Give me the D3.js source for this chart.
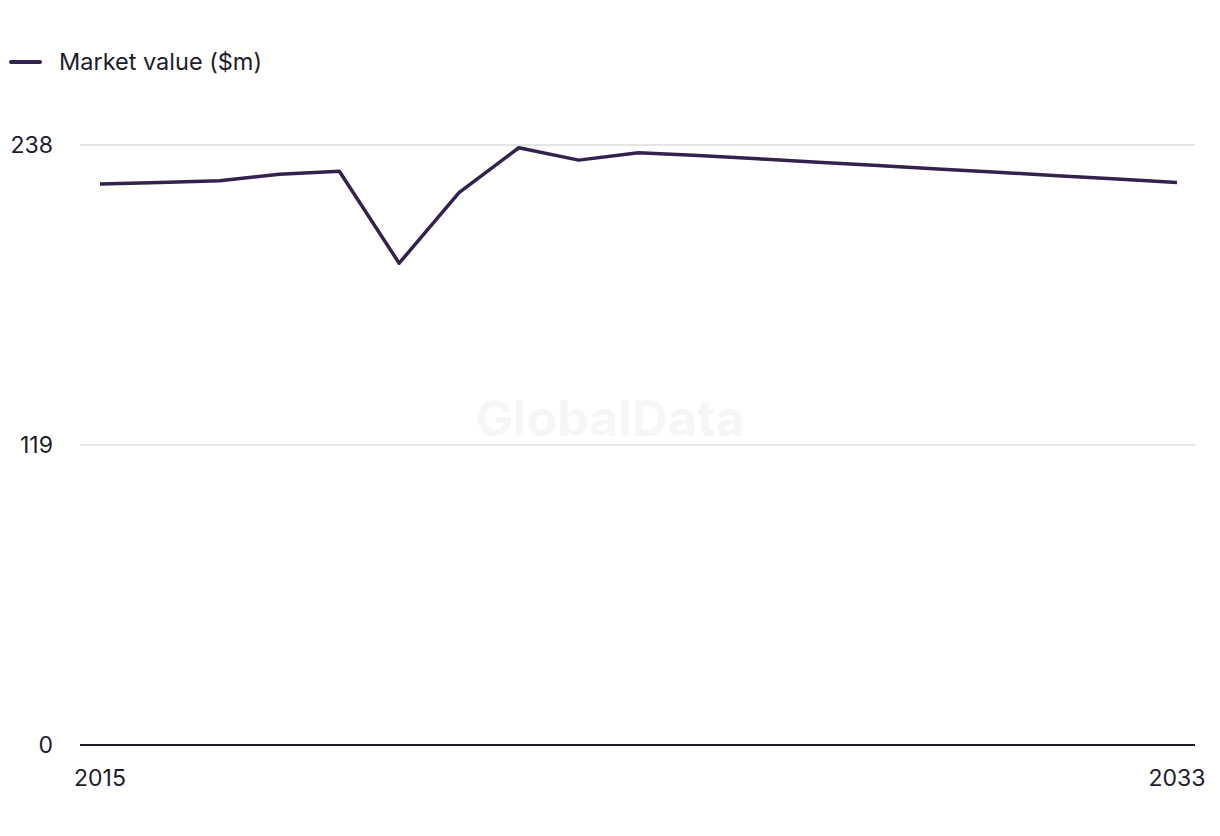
<!DOCTYPE html>
<html>
<head>
<meta charset="utf-8">
<script src="https://cdn.jsdelivr.net/npm/d3@7"></script>
<style>
  body { margin: 0; background: #fff; }
  svg { display: block; font-family: Inter, "Noto Sans", sans-serif; }
</style>
</head>
<body>
<svg id="chart" width="1220" height="836"></svg>
<script>
const years = [2015, 2016, 2017, 2018, 2019, 2020, 2021, 2022, 2023, 2024,
               2025, 2026, 2027, 2028, 2029, 2030, 2031, 2032, 2033];
const marketValue = [222.5, 223.1, 223.8, 226.4, 227.6, 191.1, 219.1, 236.9, 232.0, 234.9,
                     233.8, 232.5, 231.2, 229.9, 228.5, 227.2, 225.8, 224.5, 223.1];
const yTicks = [0, 119, 238];
const xTicks = [2015, 2033];
const seriesName = 'Market value ($m)';

const svg = d3.select('#chart');
const lineColor = '#33214f';
const textColor = '#1c1c2c';

const x = d3.scaleLinear().domain([2015, 2033]).range([100, 1177]);
const y = d3.scaleLinear().domain([0, 238]).range([745, 145]);

// watermark
svg.append('text')
    .attr('x', 610).attr('y', 436)
    .attr('text-anchor', 'middle')
    .attr('font-size', 50).attr('font-weight', 700)
    .attr('fill', '#f6f6f6')
    .text('GlobalData');

// gridlines
svg.selectAll('line.grid')
    .data(yTicks.filter(d => d > 0))
    .enter()
    .append('line')
    .attr('class', 'grid')
    .attr('x1', 80).attr('x2', 1195)
    .attr('y1', d => y(d)).attr('y2', d => y(d))
    .attr('stroke', '#dcdcdc')
    .attr('stroke-width', 1.5);

// baseline
svg.append('line')
    .attr('x1', 80).attr('x2', 1195)
    .attr('y1', y(0)).attr('y2', y(0))
    .attr('stroke', textColor)
    .attr('stroke-width', 2);

// y labels
svg.selectAll('text.ylab')
    .data(yTicks)
    .enter()
    .append('text')
    .attr('class', 'ylab')
    .attr('x', 53)
    .attr('y', d => y(d) + 8)
    .attr('text-anchor', 'end')
    .attr('font-size', 23)
    .attr('fill', textColor)
    .text(d => d);

// x labels
svg.selectAll('text.xlab')
    .data(xTicks)
    .enter()
    .append('text')
    .attr('class', 'xlab')
    .attr('x', d => x(d))
    .attr('y', 786)
    .attr('text-anchor', 'middle')
    .attr('font-size', 23)
    .attr('fill', textColor)
    .text(d => d);

// series line
const line = d3.line()
    .x((d, i) => x(years[i]))
    .y(d => y(d));

svg.append('path')
    .datum(marketValue)
    .attr('d', line)
    .attr('fill', 'none')
    .attr('stroke', lineColor)
    .attr('stroke-width', 3.5)
    .attr('stroke-linejoin', 'round');

// legend
svg.append('line')
    .attr('x1', 11).attr('x2', 40)
    .attr('y1', 62).attr('y2', 62)
    .attr('stroke', lineColor)
    .attr('stroke-width', 4)
    .attr('stroke-linecap', 'round');

svg.append('text')
    .attr('x', 59).attr('y', 70)
    .attr('font-size', 23.5)
    .attr('fill', textColor)
    .text(seriesName);
</script>
</body>
</html>
